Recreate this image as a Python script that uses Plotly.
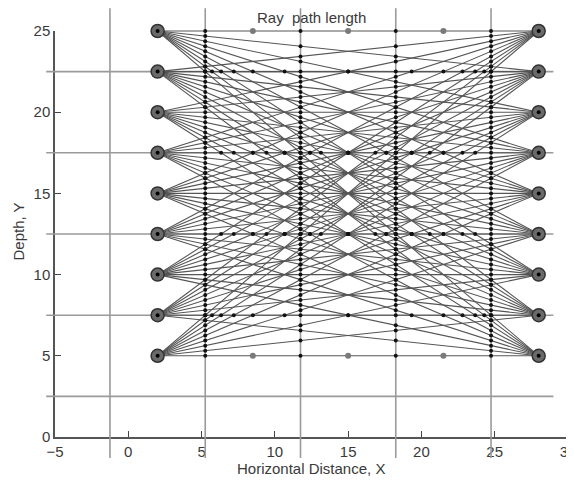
import plotly.graph_objects as go

# ---- data ----
depths = [5, 7.5, 10, 12.5, 15, 17.5, 20, 22.5, 25]
source_x = 2
receiver_x = 28
grid_x = [-1.25, 5.25, 11.75, 18.25, 24.75]
grid_y = [2.5, 7.5, 12.5, 17.5, 22.5]
grid_x_span = [-5.6, 29.0]
grid_y_span = [-1.3, 26.4]
center_dots_x = [8.5, 15, 21.5]
center_dots_y = [5, 25]
x_ticks = [-5, 0, 5, 10, 15, 20, 25, 30]
y_ticks = [0, 5, 10, 15, 20, 25]

# page body offset (default 8px margin of the html body)
OFF = 8
W, H = 574 - OFF, 480 - OFF
# main axes frame in window pixels, converted to figure pixels
px_l, px_r = 55 - OFF, 568 - OFF
py_top, py_bot = 31 - OFF, 437 - OFF
xr = [-5, 30]
yr = [0, 25]
sx = (px_r - px_l) / (xr[1] - xr[0])
sy = (py_bot - py_top) / (yr[1] - yr[0])
x2r = [xr[0] - px_l / sx, xr[1] + (W - px_r) / sx]
y2r = [yr[0] - (H - py_bot) / sy, yr[1] + py_top / sy]

fig = go.Figure()

# invisible trace to hold main axes
fig.add_trace(go.Scatter(x=[10], y=[10], mode="markers",
                         marker=dict(opacity=0), showlegend=False,
                         hoverinfo="skip", xaxis="x", yaxis="y"))

# grid lines
gx, gy = [], []
for x in grid_x:
    gx += [x, x, None]
    gy += [grid_y_span[0], grid_y_span[1], None]
for y in grid_y:
    gx += [grid_x_span[0], grid_x_span[1], None]
    gy += [y, y, None]
fig.add_trace(go.Scatter(x=gx, y=gy, mode="lines",
                         line=dict(color="#9a9a9a", width=1.6),
                         showlegend=False, hoverinfo="skip",
                         xaxis="x2", yaxis="y2"))

# rays
rx, ry = [], []
ix, iy = [], []
for ys in depths:
    for yrc in depths:
        rx += [source_x, receiver_x, None]
        ry += [ys, yrc, None]
        for x in grid_x:
            if source_x < x < receiver_x:
                t = (x - source_x) / (receiver_x - source_x)
                ix.append(x)
                iy.append(ys + t * (yrc - ys))
        for y in grid_y:
            if yrc != ys and min(ys, yrc) < y < max(ys, yrc):
                t = (y - ys) / (yrc - ys)
                ix.append(source_x + t * (receiver_x - source_x))
                iy.append(y)
fig.add_trace(go.Scatter(x=rx, y=ry, mode="lines",
                         line=dict(color="#555555", width=1.1),
                         showlegend=False, hoverinfo="skip",
                         xaxis="x2", yaxis="y2"))

# intersection dots
fig.add_trace(go.Scatter(x=ix, y=iy, mode="markers",
                         marker=dict(color="#111111", size=4),
                         showlegend=False, hoverinfo="skip",
                         xaxis="x2", yaxis="y2"))

# gray cell-center dots
cdx, cdy = [], []
for y in center_dots_y:
    for x in center_dots_x:
        cdx.append(x)
        cdy.append(y)
fig.add_trace(go.Scatter(x=cdx, y=cdy, mode="markers",
                         marker=dict(color="#7a7a7a", size=6),
                         showlegend=False, hoverinfo="skip",
                         xaxis="x2", yaxis="y2"))

# sources and receivers
ex = [source_x] * len(depths) + [receiver_x] * len(depths)
ey = depths + depths
fig.add_trace(go.Scatter(x=ex, y=ey, mode="markers",
                         marker=dict(color="#6a6a6a", size=13,
                                     line=dict(color="#333333", width=1.5)),
                         showlegend=False, hoverinfo="skip",
                         xaxis="x2", yaxis="y2"))
fig.add_trace(go.Scatter(x=ex, y=ey, mode="markers",
                         marker=dict(color="#000000", size=4),
                         showlegend=False, hoverinfo="skip",
                         xaxis="x2", yaxis="y2"))

font_main = dict(family="Liberation Sans, Arial, sans-serif", size=15, color="#3a3a3a")

fig.update_layout(
    width=W, height=H,
    margin=dict(l=0, r=0, t=0, b=0, pad=0, autoexpand=False),
    paper_bgcolor="white", plot_bgcolor="rgba(0,0,0,0)",
    font=font_main,
    showlegend=False,
    xaxis=dict(domain=[px_l / W, px_r / W], range=xr, anchor="y",
               tickvals=x_ticks, ticks="inside", ticklen=6, tickwidth=1.2,
               tickcolor="#444", showline=True, linecolor="#555", linewidth=1.5,
               showgrid=False, zeroline=False, tickfont=font_main, automargin=False,
               ticklabeloverflow="allow"),
    yaxis=dict(domain=[(H - py_bot) / H, (H - py_top) / H], range=yr, anchor="x",
               tickvals=y_ticks, ticks="inside", ticklen=6, tickwidth=1.2,
               tickcolor="#444", showline=True, linecolor="#555", linewidth=1.5,
               showgrid=False, zeroline=False, tickfont=font_main, automargin=False),
    xaxis2=dict(domain=[0, 1], range=x2r, anchor="y2", visible=False,
                showgrid=False, zeroline=False),
    yaxis2=dict(domain=[0, 1], range=y2r, anchor="x2", visible=False,
                showgrid=False, zeroline=False),
    annotations=[
        dict(text="Ray  path length", x=(311 - OFF) / W, y=1.0,
             xref="paper", yref="paper", borderpad=0,
             showarrow=False, font=font_main, xanchor="center", yanchor="top"),
        dict(text="Horizontal Distance, X", x=(311 - OFF) / W, y=1 - (468 - OFF) / H,
             xref="paper", yref="paper",
             showarrow=False, font=font_main, xanchor="center", yanchor="middle"),
        dict(text="Depth, Y", x=0.0, y=1 - (232 - OFF) / H,
             xref="paper", yref="paper", borderpad=0,
             showarrow=False, font=font_main, textangle=-90,
             xanchor="left", yanchor="middle"),
    ],
)

fig.write_html("out.html")
